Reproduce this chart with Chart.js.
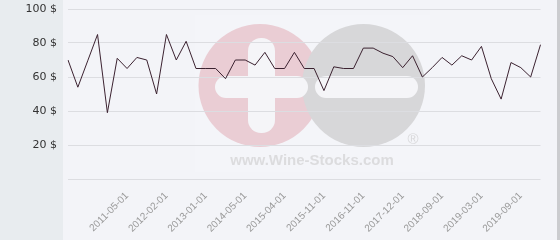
<!DOCTYPE html>
<html>
<head>
<meta charset="utf-8">
<script src="https://cdn.jsdelivr.net/npm/chart.js@4/dist/chart.umd.min.js"></script>
<style>
  html, body { margin: 0; padding: 0; background: #f3f4f8; }
  #chart { display: block; }
</style>
</head>
<body>
<canvas id="chart" width="560" height="240"></canvas>
<script>
// price history, one point per listed date
const dates = [
    '2010-02-01', '2010-05-01', '2010-07-01', '2010-09-01', '2010-12-01', '2011-03-01',
    '2011-05-01', '2011-07-01', '2011-09-01', '2011-12-01',
    '2012-02-01', '2012-04-01', '2012-07-01', '2012-10-01',
    '2013-01-01', '2013-05-01', '2013-09-01', '2014-01-01',
    '2014-05-01', '2014-08-01', '2014-11-01', '2015-02-01',
    '2015-04-01', '2015-06-01', '2015-08-01', '2015-10-01',
    '2015-11-01', '2016-02-01', '2016-05-01', '2016-08-01',
    '2016-11-01', '2017-03-01', '2017-06-01', '2017-09-01',
    '2017-12-01', '2018-02-01', '2018-04-01', '2018-07-01',
    '2018-09-01', '2018-11-01', '2018-12-01', '2019-02-01',
    '2019-03-01', '2019-05-01', '2019-06-01', '2019-08-01',
    '2019-09-01', '2019-10-01', '2019-12-01'
]
const prices = [
    70, 54, 69.5, 85, 39, 71, 65, 71.5, 70, 50,
    85, 70, 81, 65, 65, 65, 59, 70, 70, 67,
    74.5, 65, 65, 74.5, 65, 65, 52, 66, 65, 65,
    77, 77, 74, 72, 65.5, 72.5, 60, 65.5, 71.5, 67,
    72.5, 70, 78, 59, 47, 68.5, 65.5, 60, 79
]
// dates that get a label on the x axis
const shownTicks = [
    '2011-05-01', '2012-02-01', '2013-01-01', '2014-05-01', '2015-04-01', '2015-11-01',
    '2016-11-01', '2017-12-01', '2018-09-01', '2019-03-01', '2019-09-01'
]
const yTicks = [0, 20, 40, 60, 80, 100]

function roundRect(ctx, x, y, w, h, r) {
    ctx.beginPath()
    ctx.moveTo(x + r, y)
    ctx.arcTo(x + w, y, x + w, y + h, r)
    ctx.arcTo(x + w, y + h, x, y + h, r)
    ctx.arcTo(x, y + h, x, y, r)
    ctx.arcTo(x, y, x + w, y, r)
    ctx.closePath()
    ctx.fill()
}

var backdrop = {
    id: 'backdrop',
    beforeDraw: function (chart) {
        var ctx = chart.ctx
        ctx.save()
        // left panel behind the y labels
        ctx.fillStyle = '#e8ecef'
        ctx.fillRect(0, 0, 63, chart.height)
        ctx.fillStyle = '#f3f4f8'
        ctx.fillRect(63, 0, chart.width - 63, chart.height)
        ctx.fillStyle = '#cbcccf'
        ctx.fillRect(557, 0, 3, chart.height)

        // watermark
        ctx.fillStyle = 'rgba(255,255,255,0.15)'
        ctx.fillRect(195, 15, 235, 157)
        ctx.fillStyle = '#eacdd4'
        ctx.beginPath(); ctx.arc(260, 85.5, 61.5, 0, Math.PI * 2); ctx.fill()
        ctx.fillStyle = '#d7d7d9'
        ctx.beginPath(); ctx.arc(363.5, 85.5, 61.5, 0, Math.PI * 2); ctx.fill()
        ctx.fillStyle = '#f5f5f8'
        roundRect(ctx, 248, 38, 27, 95, 13)
        roundRect(ctx, 215, 76, 93, 22, 11)
        roundRect(ctx, 315, 76, 103, 22, 11)
        ctx.fillStyle = '#d8d8da'
        ctx.font = '15px "Liberation Sans", Arial, sans-serif'
        ctx.textAlign = 'center'
        ctx.textBaseline = 'middle'
        ctx.fillText('\u00ae', 413, 140)
        ctx.font = 'bold 15px "Liberation Sans", Arial, sans-serif'
        ctx.fillStyle = '#dcdcde'
        ctx.fillText('www.Wine-Stocks.com', 312, 161)
        ctx.restore()
    }
}

var ctx = document.getElementById('chart').getContext('2d')
var chart = new Chart(ctx, {
    type: 'line',
    data: {
        labels: dates,
        datasets: [{
            data: prices,
            borderColor: '#3b2230',
            borderWidth: 1,
            pointRadius: 0,
            fill: false,
            tension: 0
        }]
    },
    options: {
        responsive: false,
        animation: false,
        layout: {padding: {top: 9, right: 5, left: 0, bottom: 0}},
        plugins: {legend: {display: false}, tooltip: {enabled: false}},
        scales: {
            x: {
                offset: false,
                grid: {display: false, drawTicks: false},
                border: {display: false},
                afterFit: function (s) { s.height = 61 },
                ticks: {
                    autoSkip: false,
                    maxRotation: 45,
                    minRotation: 45,
                    padding: 11,
                    color: '#999',
                    font: {family: '"Liberation Sans", Arial, sans-serif', size: 10},
                    callback: function (v, i) {
                        var d = dates[i]
                        return shownTicks.indexOf(d) >= 0 ? d : ''
                    }
                }
            },
            y: {
                min: yTicks[0],
                max: yTicks[yTicks.length - 1],
                afterFit: function (s) { s.width = 68 },
                afterBuildTicks: function (s) { s.ticks = yTicks.map(function (v) { return {value: v} }) },
                grid: {color: '#dcdde1', drawTicks: true, tickLength: 11, tickColor: 'rgba(0,0,0,0)'},
                border: {display: false},
                ticks: {
                    padding: 0,
                    color: '#333',
                    font: {family: '"DejaVu Sans", sans-serif', size: 11},
                    callback: function (v) { return v === 0 ? '' : v + ' $' }
                }
            }
        }
    },
    plugins: [backdrop]
})
</script>
</body>
</html>
